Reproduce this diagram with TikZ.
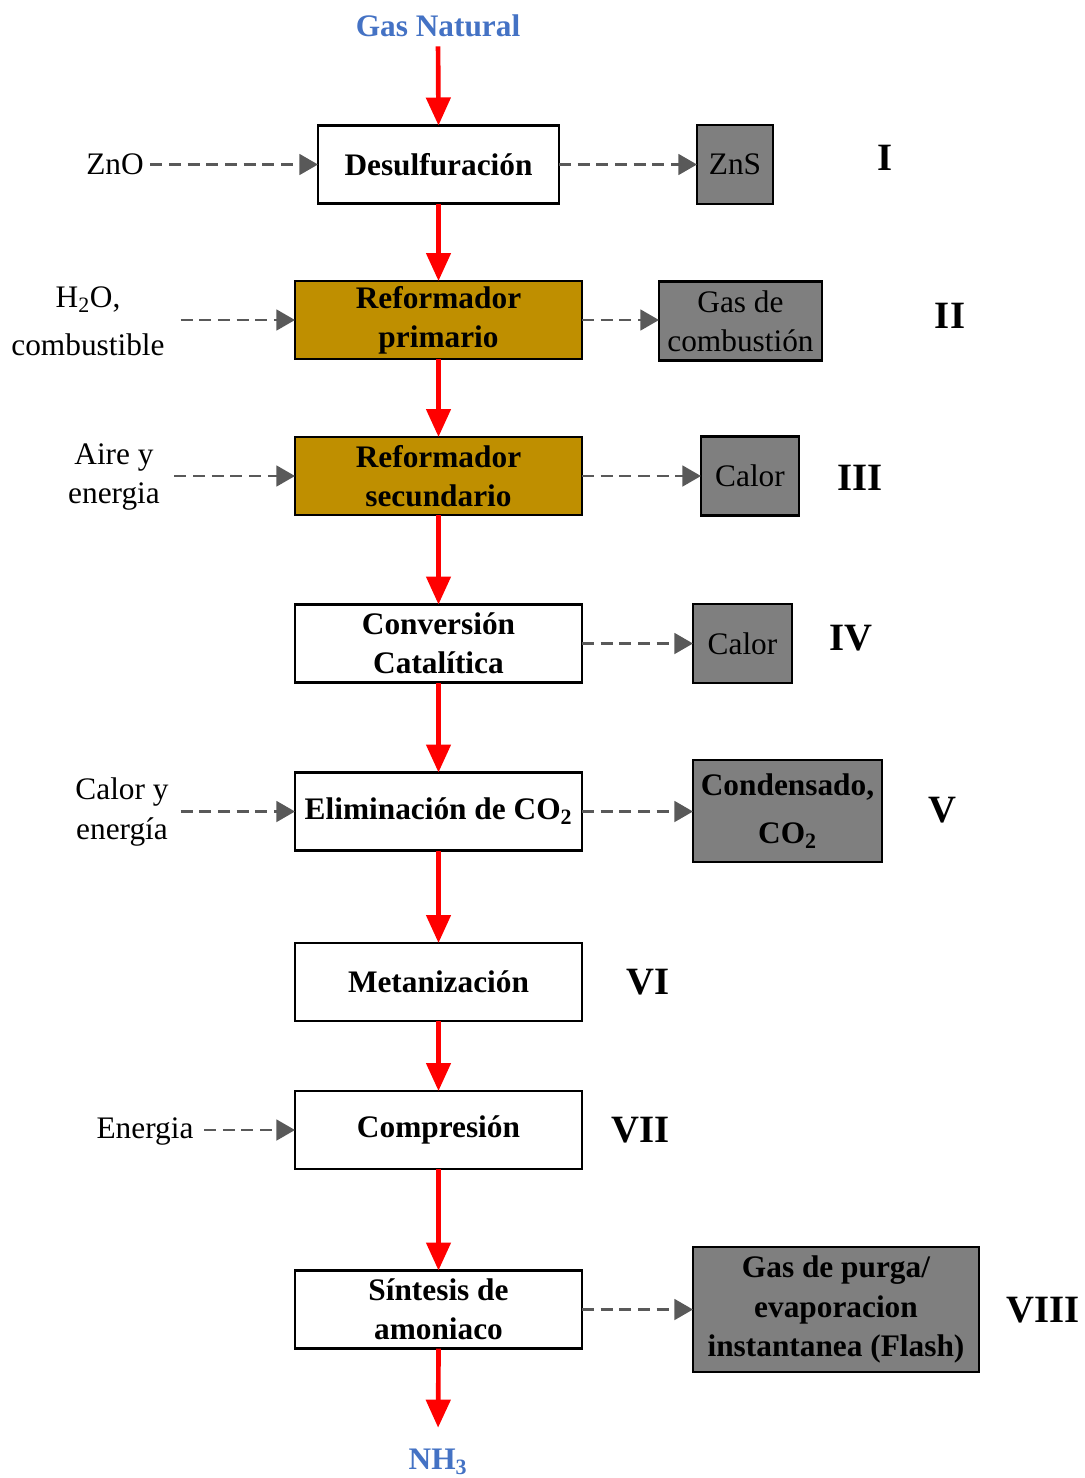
\documentclass[tikz,border=0pt]{standalone}
\usepackage{fontspec}
\setmainfont{Liberation Serif}
\usetikzlibrary{arrows.meta}
\definecolor{goldfill}{HTML}{BF8F00}
\definecolor{grayfill}{HTML}{7F7F7F}
\definecolor{dashgray}{HTML}{595959}
\definecolor{bluetxt}{HTML}{4472C4}
\begin{document}
\begin{tikzpicture}[x=0.75pt,y=-0.75pt,
  every node/.style={font=\fontsize{23.5}{29.5}\selectfont, inner sep=0pt, outer sep=0pt},
  mainbox/.style={draw=black, line width=1.8pt, fill=white, minimum width=215.25pt, minimum height=58.5pt, align=center, font=\fontsize{23.5}{29.5}\selectfont\bfseries},
  goldbox/.style={mainbox, fill=goldfill},
  outbox/.style={draw=black, line width=1.8pt, fill=grayfill, minimum height=59.25pt, align=center},
  lbl/.style={align=center},
  bluelbl/.style={text=bluetxt, font=\fontsize{23.5}{29.5}\selectfont\bfseries},
  numeral/.style={font=\fontsize{29}{34}\selectfont\bfseries},
  flow/.style={draw=red, line width=3.5pt, -{Triangle[length=21pt,width=18pt]}},
  side/.style={draw=dashgray, line width=2.2pt, dash pattern=on 9pt off 5pt, -{Triangle[length=14pt,width=15.5pt]}},
]
\useasboundingbox (0,0) rectangle (1085,1478);

% main column
\node[bluelbl, anchor=south] (gas) at (438,37) {Gas Natural};
\node[mainbox, minimum width=180.75pt] (d1) at (438.5,164.5) {Desulfuración};
\node[goldbox] (d2) at (438.5,320) {Reformador\\primario};
\node[goldbox] (d3) at (438.5,476) {Reformador\\secundario};
\node[mainbox] (d4) at (438.5,643.5) {Conversión\\Catalítica};
\node[mainbox] (d5) at (438.5,811.5) {Eliminación de CO\textsubscript{2}};
\node[mainbox] (d6) at (438.5,982) {Metanización};
\node[mainbox] (d7) at (438.5,1130) {Compresión};
\node[mainbox] (d8) at (438.5,1309.5) {Síntesis de\\amoniaco};
\node[bluelbl, anchor=north] (nh3) at (438,1449) {NH\textsubscript{3}};

% left inputs
\node[lbl] (zno) at (115,164) {ZnO};
\node[lbl, font=\fontsize{23.5}{36}\selectfont] (h2o) at (88,321) {H\textsubscript{2}O,\\combustible};
\node[lbl] (aire) at (114,477) {Aire y\\energia};
\node[lbl] (calor) at (122,812) {Calor y\\energía};
\node[lbl] (energ) at (145,1131) {Energia};

% right outputs
\node[outbox, minimum width=57pt] (o1) at (735,164.5) {ZnS};
\node[outbox, minimum width=122.25pt] (o2) at (740.5,321) {Gas de\\combustión};
\node[outbox, minimum width=73.5pt] (o3) at (750,476) {Calor};
\node[outbox, minimum width=74.25pt] (o4) at (742.5,643.5) {Calor};
\node[outbox, minimum width=141.75pt, minimum height=76.5pt, font=\fontsize{23.5}{36}\selectfont\bfseries] (o5) at (787.5,811) {Condensado,\\CO\textsubscript{2}};
\node[outbox, minimum width=214.5pt, minimum height=93.75pt, font=\fontsize{23.5}{29.5}\selectfont\bfseries] (o8) at (836,1309.5) {Gas de purga/\\evaporacion\\instantanea (Flash)};

% numerals
\node[numeral] (n1) at (885,158) {I};
\node[numeral] (n2) at (950,316) {II};
\node[numeral] (n3) at (860,478) {III};
\node[numeral] (n4) at (851,638) {IV};
\node[numeral] (n5) at (942,810) {V};
\node[numeral] (n6) at (648,982) {VI};
\node[numeral] (n7) at (641,1130) {VII};
\node[numeral] (n8) at (1043,1310) {VIII};

% main flow
\draw[flow, shorten <=7pt] (gas.south) -- (d1.north);
\draw[flow] (d1.south) -- (d2.north);
\draw[flow] (d2.south) -- (d3.north);
\draw[flow] (d3.south) -- (d4.north);
\draw[flow] (d4.south) -- (d5.north);
\draw[flow] (d5.south) -- (d6.north);
\draw[flow] (d6.south) -- (d7.north);
\draw[flow] (d7.south) -- (d8.north);
\draw[flow, shorten >=16pt] (d8.south) -- (nh3.north);

% inputs
\draw[side, shorten <=5pt] (zno.east |- d1) -- (d1.west);
\draw[side, shorten <=12pt] (h2o.east |- d2) -- (d2.west);
\draw[side, shorten <=11pt] (aire.east |- d3) -- (d3.west);
\draw[side, shorten <=9pt] (calor.east |- d5) -- (d5.west);
\draw[side, shorten <=8pt] (energ.east |- d7) -- (d7.west);

% outputs
\draw[side] (d1.east) -- (o1.west);
\draw[side] (d2.east) -- (o2.west |- d2);
\draw[side] (d3.east) -- (o3.west);
\draw[side] (d4.east) -- (o4.west);
\draw[side] (d5.east) -- (o5.west |- d5);
\draw[side] (d8.east) -- (o8.west);
\end{tikzpicture}
\end{document}
